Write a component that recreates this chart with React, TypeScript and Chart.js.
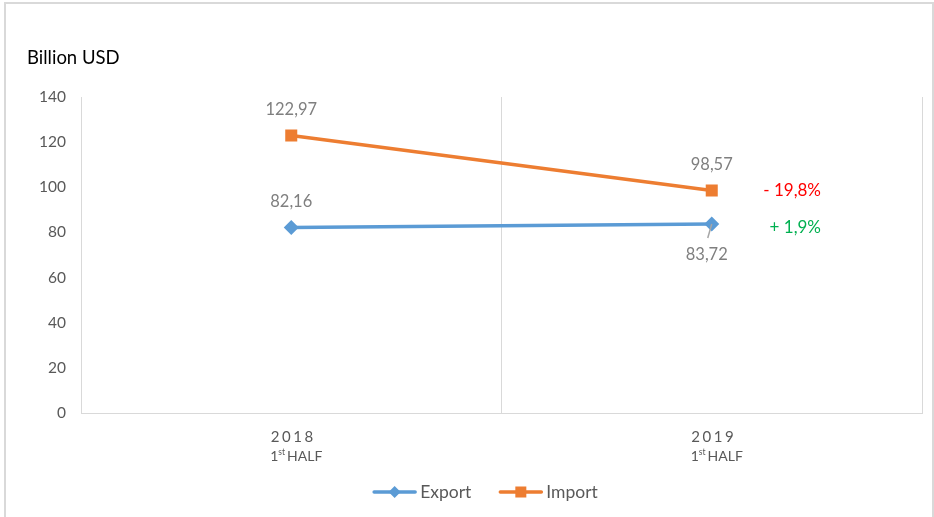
import React, { useEffect, useRef } from "react";
import { Chart, registerables } from "chart.js";

Chart.register(...registerables);

const categories = ["2018", "2019"];
const subLabelOrdinal = ["1", "1"];
const subLabelSuffix = ["st", "st"];
const subLabelWord = ["HALF", "HALF"];
const exportValues = [82.16, 83.72];
const importValues = [122.97, 98.57];
const exportValueLabels = ["82,16", "83,72"];
const importValueLabels = ["122,97", "98,57"];
const exportLabelSide = ["above", "below"];
const importLabelSide = ["above", "above"];
const seriesNames = ["Export", "Import"];
const changeLabels = ["+ 1,9%", "- 19,8%"];
const changeColors = ["#00B050", "#FF0000"];
const yMin = 0;
const yMax = 140;
const yStep = 20;
const yTitle = "Billion USD";

const FONT = "Lato, 'Open Sans', sans-serif";
const BLUE = "#5B9BD5";
const ORANGE = "#ED7D31";
const GRID = "#d9d9d9";
const TICK = "#595959";
const LABEL = "#7f7f7f";

const overlayPlugin = {
  id: "overlay",
  afterDraw(chart: any) {
    const ctx = chart.ctx as CanvasRenderingContext2D;
    const xScale = chart.scales.x;
    ctx.save();

    // Title
    ctx.font = `18.5px ${FONT}`;
    ctx.fillStyle = "#000000";
    ctx.textAlign = "left";
    ctx.textBaseline = "middle";
    ctx.fillText(yTitle, 27, 58);

    // X labels
    categories.forEach((cat, i) => {
      const x = xScale.getPixelForValue(i);
      ctx.fillStyle = TICK;
      ctx.font = `15px ${FONT}`;
      (ctx as any).letterSpacing = "2.5px";
      ctx.textAlign = "center";
      ctx.textBaseline = "middle";
      ctx.fillText(cat, x + 2, 437);
      (ctx as any).letterSpacing = "0px";
      ctx.textAlign = "left";
      ctx.font = `14px ${FONT}`;
      const w1 = ctx.measureText(subLabelOrdinal[i]).width;
      const w3 = ctx.measureText(subLabelWord[i]).width;
      ctx.font = `8.5px ${FONT}`;
      const w2 = ctx.measureText(subLabelSuffix[i]).width;
      const total = w1 + w2 + 2 + w3;
      let sx = x + 5 - total / 2;
      ctx.font = `14px ${FONT}`;
      ctx.fillText(subLabelOrdinal[i], sx, 456);
      sx += w1;
      ctx.font = `8.5px ${FONT}`;
      ctx.fillText(subLabelSuffix[i], sx, 452);
      sx += w2 + 2;
      ctx.font = `14px ${FONT}`;
      ctx.fillText(subLabelWord[i], sx, 456);
    });

    // Data labels
    const drawLabels = (dsIndex: number, labels: string[], sides: string[]) => {
      const meta = chart.getDatasetMeta(dsIndex);
      meta.data.forEach((pt: any, i: number) => {
        ctx.font = `16.5px ${FONT}`;
        ctx.fillStyle = LABEL;
        ctx.textAlign = "center";
        ctx.textBaseline = "middle";
        if (sides[i] === "above") {
          ctx.fillText(labels[i], pt.x, pt.y - 26);
        } else {
          ctx.fillText(labels[i], pt.x - 5, pt.y + 31);
          ctx.strokeStyle = "#a6a6a6";
          ctx.lineWidth = 1.5;
          ctx.beginPath();
          ctx.moveTo(pt.x, pt.y);
          ctx.lineTo(pt.x - 4, pt.y + 14);
          ctx.stroke();
        }
      });
    };
    drawLabels(0, exportValueLabels, exportLabelSide);
    drawLabels(1, importValueLabels, importLabelSide);

    // Change labels
    [0, 1].forEach((ds) => {
      const meta = chart.getDatasetMeta(ds);
      const last = meta.data[meta.data.length - 1];
      ctx.font = `17px ${FONT}`;
      ctx.fillStyle = changeColors[ds];
      ctx.textAlign = "right";
      ctx.textBaseline = "middle";
      ctx.fillText(changeLabels[ds], 821, last.y + (ds === 0 ? 3 : 0));
    });

    // Legend
    ctx.font = `17.5px ${FONT}`;
    const lineLen = 41;
    const gapText = 5;
    const gapItems = 29;
    const widths = seriesNames.map((n) => lineLen + gapText + ctx.measureText(n).width);
    const totalW = widths[0] + gapItems + widths[1];
    let lx = 486 - totalW / 2;
    const ly = 492;
    seriesNames.forEach((name, i) => {
      const color = i === 0 ? BLUE : ORANGE;
      ctx.strokeStyle = color;
      ctx.lineWidth = 3.5;
      ctx.lineCap = "round";
      ctx.beginPath();
      ctx.moveTo(lx, ly);
      ctx.lineTo(lx + lineLen, ly);
      ctx.stroke();
      ctx.fillStyle = color;
      const cx = lx + lineLen / 2;
      if (i === 0) {
        ctx.beginPath();
        ctx.moveTo(cx - 6, ly);
        ctx.lineTo(cx, ly - 6);
        ctx.lineTo(cx + 6, ly);
        ctx.lineTo(cx, ly + 6);
        ctx.closePath();
        ctx.fill();
      } else {
        ctx.fillRect(cx - 5.5, ly - 5.5, 11, 11);
      }
      ctx.fillStyle = TICK;
      ctx.textAlign = "left";
      ctx.textBaseline = "middle";
      ctx.fillText(name, lx + lineLen + gapText, ly);
      lx += widths[i] + gapItems;
    });

    ctx.restore();
  },
};

export default function App() {
  const canvasRef = useRef<HTMLCanvasElement | null>(null);

  useEffect(() => {
    if (!canvasRef.current) return;
    const chart = new Chart(canvasRef.current, {
      type: "line",
      data: {
        labels: categories,
        datasets: [
          {
            label: seriesNames[0],
            data: exportValues,
            borderColor: BLUE,
            backgroundColor: BLUE,
            borderWidth: 3.5,
            pointStyle: "rectRot",
            pointRadius: 7.5,
            pointBorderWidth: 0,
            pointBackgroundColor: BLUE,
            tension: 0,
          },
          {
            label: seriesNames[1],
            data: importValues,
            borderColor: ORANGE,
            backgroundColor: ORANGE,
            borderWidth: 3.5,
            pointStyle: "rect",
            pointRadius: 8.5,
            pointBorderWidth: 0,
            pointBackgroundColor: ORANGE,
            tension: 0,
          },
        ],
      },
      options: {
        responsive: false,
        animation: false,
        layout: { padding: { top: 97, right: 12, left: 0, bottom: 0 } },
        plugins: {
          legend: { display: false },
          tooltip: { enabled: false },
          title: { display: false },
        },
        scales: {
          x: {
            type: "category",
            offset: true,
            grid: {
              display: true,
              offset: true,
              color: GRID,
              lineWidth: 1,
              drawTicks: false,
            },
            border: { display: true, color: GRID, width: 1 },
            ticks: { display: false },
            afterFit: (scale: any) => {
              scale.height = 104;
            },
          },
          y: {
            min: yMin,
            max: yMax,
            grid: { display: false, drawTicks: false },
            border: { display: false },
            ticks: {
              stepSize: yStep,
              color: TICK,
              font: { family: FONT, size: 15.5 },
              padding: 15,
            },
            afterFit: (scale: any) => {
              scale.width = 81;
            },
          },
        },
      },
      plugins: [overlayPlugin],
    });
    return () => chart.destroy();
  }, []);

  return (
    <div
      style={{
        position: "absolute",
        left: 0,
        top: 0,
        width: 934,
        height: 517,
        background: "#ffffff",
        overflow: "hidden",
      }}
    >
      <div
        style={{
          position: "absolute",
          left: 4,
          top: 2,
          width: 926,
          height: 530,
          borderLeft: `2px solid ${GRID}`,
          borderTop: `2px solid ${GRID}`,
          borderRight: `2px solid ${GRID}`,
        }}
      />
      <canvas
        ref={canvasRef}
        width={934}
        height={517}
        style={{ position: "absolute", left: 0, top: 0, width: 934, height: 517 }}
      />
    </div>
  );
}
